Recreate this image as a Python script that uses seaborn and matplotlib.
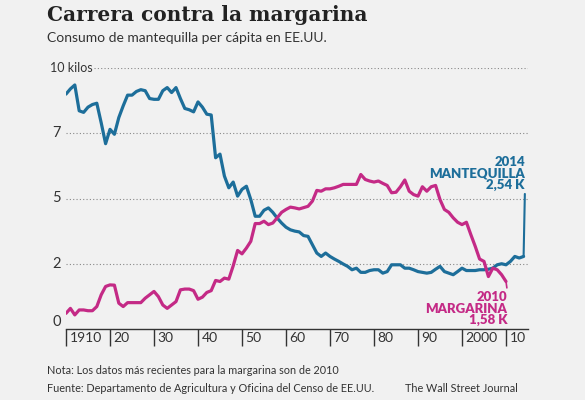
import numpy as np
import pandas as pd
import matplotlib.pyplot as plt
import matplotlib.transforms as mtransforms
import seaborn as sns

# datos (kilos per capita)
anios_mant = list(range(1910, 2015))
mantequilla = [
    9.0, 9.2, 9.35, 8.36, 8.3, 8.5, 8.6, 8.65, 7.9, 7.1,
    7.65, 7.46, 8.1, 8.55, 8.96, 8.96, 9.1, 9.17, 9.13, 8.83,
    8.8, 8.8, 9.13, 9.25, 9.06, 9.25, 8.83, 8.45, 8.4, 8.32,
    8.7, 8.5, 8.23, 8.2, 6.56, 6.7, 5.86, 5.41, 5.63, 5.09,
    5.35, 5.47, 4.96, 4.32, 4.32, 4.55, 4.64, 4.47, 4.25, 4.06,
    3.9, 3.8, 3.75, 3.72, 3.58, 3.55, 3.23, 2.91, 2.78, 2.91,
    2.78, 2.68, 2.59, 2.49, 2.4, 2.27, 2.33, 2.17, 2.17, 2.24,
    2.27, 2.27, 2.14, 2.2, 2.46, 2.46, 2.46, 2.33, 2.33, 2.27,
    2.2, 2.17, 2.14, 2.17, 2.29, 2.4, 2.2, 2.14, 2.08, 2.2,
    2.33, 2.24, 2.24, 2.24, 2.27, 2.27, 2.29, 2.33, 2.46, 2.5,
    2.46, 2.59, 2.78, 2.72, 2.78,
]
anios_marg = list(range(1910, 2011))
margarina = [
    0.6, 0.79, 0.54, 0.73, 0.73, 0.7, 0.7, 0.86, 1.31, 1.63,
    1.69, 1.68, 0.99, 0.86, 1.01, 1.01, 1.01, 1.01, 1.18, 1.31,
    1.44, 1.24, 0.92, 0.79, 0.92, 1.05, 1.5, 1.53, 1.53, 1.47,
    1.14, 1.22, 1.4, 1.47, 1.86, 1.82, 1.95, 1.91, 2.42, 3.01,
    2.88, 3.1, 3.36, 4.04, 4.04, 4.13, 4.0, 4.06, 4.26, 4.47,
    4.58, 4.67, 4.64, 4.6, 4.65, 4.7, 4.9, 5.31, 5.28, 5.37,
    5.37, 5.41, 5.47, 5.54, 5.54, 5.54, 5.54, 5.92, 5.73, 5.67,
    5.63, 5.67, 5.58, 5.5, 5.22, 5.24, 5.45, 5.71, 5.28, 5.15,
    5.09, 5.45, 5.28, 5.45, 5.5, 4.96, 4.58, 4.47, 4.26, 4.09,
    4.0, 4.09, 3.62, 3.17, 2.68, 2.59, 2.01, 2.33, 2.27, 2.08,
    1.82,
]

y_ticks = [0, 2.5, 5, 7.5, 10]
y_labels = ["0", "2", "5", "7", "10 kilos"]
x_ticks = list(range(1910, 2011, 10))
x_labels = ["1910", "20", "30", "40", "50", "60", "70", "80", "90", "2000", "10"]

AZUL = "#1d6e9a"
MAGENTA = "#c42a86"
FONDO = "#f1f1f1"
GRIS = "#333333"

sns.set_theme(style="white")
plt.rcParams["font.family"] = ["Lato", "DejaVu Sans"]

df = pd.concat([
    pd.DataFrame({"anio": anios_mant, "kilos": mantequilla, "serie": "Mantequilla"}),
    pd.DataFrame({"anio": anios_marg, "kilos": margarina, "serie": "Margarina"}),
])

fig = plt.figure(figsize=(5.85, 4.0), dpi=100, facecolor=FONDO)
ax = fig.add_axes([66 / 585, 71 / 400, 462 / 585, 261 / 400])
ax.set_facecolor(FONDO)

sns.lineplot(data=df, x="anio", y="kilos", hue="serie",
             palette={"Mantequilla": AZUL, "Margarina": MAGENTA},
             linewidth=2.3, legend=False, ax=ax)

ax.set_xlim(1910, 2015)
ax.set_ylim(0, 10)
for s in ["top", "right", "left"]:
    ax.spines[s].set_visible(False)
ax.spines["bottom"].set_color(GRIS)
ax.spines["bottom"].set_linewidth(1.0)
ax.set_xlabel("")
ax.set_ylabel("")

# rejilla punteada
for v in y_ticks[1:]:
    xmin = 0.06 if v == 10 else 0.0
    ax.axhline(v, xmin=xmin, xmax=1.0, color="#888888", lw=0.8,
               ls=(0, (1, 2)), zorder=0)

ax.set_yticks([])
trans_y = mtransforms.blended_transform_factory(fig.transFigure, ax.transData)
for v, lab in zip(y_ticks, y_labels):
    if lab == "10 kilos":
        ax.text(50 / 585, v, lab, transform=trans_y, ha="left", va="center",
                fontsize=9, color=GRIS)
    else:
        ax.text(61 / 585, v, lab, transform=trans_y, ha="right",
                va="bottom" if v == 0 else "center", fontsize=10.5, color=GRIS)

ax.set_xticks(x_ticks)
ax.set_xticklabels([])
ax.tick_params(axis="x", direction="out", length=12, width=1.0, color=GRIS, bottom=True)
trans_x = mtransforms.blended_transform_factory(ax.transData, fig.transFigure)
for yr, lab in zip(x_ticks, x_labels):
    ax.text(yr + 0.8, 1 - 338 / 400, lab, transform=trans_x, ha="left", va="center",
            fontsize=10, color=GRIS)

# etiquetas de las series
ax.annotate("2014\nMANTEQUILLA\n2,54 K", xy=(anios_mant[-1], mantequilla[-1]),
            xytext=(anios_mant[-1] + 0.3, 5.3), ha="right", va="bottom",
            fontsize=9.5, fontweight="heavy", color=AZUL, linespacing=0.95,
            arrowprops=dict(arrowstyle="-", color=AZUL, lw=1.5, shrinkA=0, shrinkB=0,
                            relpos=(1.0, 0.0)))
ax.annotate("2010\nMARGARINA\n1,58 K", xy=(anios_marg[-1], margarina[-1]),
            xytext=(anios_marg[-1] + 0.3, 1.45), ha="right", va="top",
            fontsize=9.5, fontweight="heavy", color=MAGENTA, linespacing=0.95,
            arrowprops=dict(arrowstyle="-", color=MAGENTA, lw=1.2, shrinkA=0, shrinkB=0,
                            relpos=(1.0, 1.0)))

# titulos y notas
fig.text(47 / 585, 1 - 15 / 400, "Carrera contra la margarina", ha="left", va="center",
         fontsize=14.5, fontweight="bold", family="DejaVu Serif", color="#222222")
fig.text(47 / 585, 1 - 38 / 400, "Consumo de mantequilla per cápita en EE.UU.",
         ha="left", va="center", fontsize=10, color=GRIS)
fig.text(47 / 585, 1 - 371 / 400, "Nota: Los datos más recientes para la margarina son de 2010",
         ha="left", va="center", fontsize=7.8, color=GRIS)
fig.text(47 / 585, 1 - 388 / 400, "Fuente: Departamento de Agricultura y Oficina del Censo de EE.UU.",
         ha="left", va="center", fontsize=7.8, color=GRIS)
fig.text(405 / 585, 1 - 388 / 400, "The Wall Street Journal",
         ha="left", va="center", fontsize=7.8, color=GRIS)

fig.savefig("out.png", dpi=100, facecolor=FONDO)
